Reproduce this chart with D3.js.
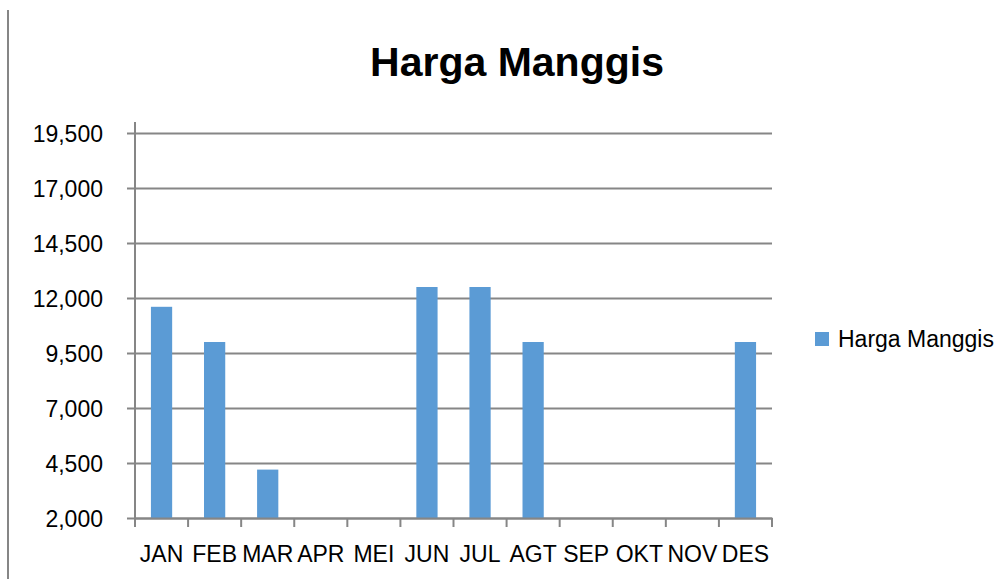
<!DOCTYPE html>
<html>
<head>
<meta charset="utf-8">
<script src="https://cdn.jsdelivr.net/npm/d3@7"></script>
<style>
    body { margin: 0; background: #fff; }
    text { font-family: "Liberation Sans", Arial, sans-serif; fill: #000; }
</style>
</head>
<body>
<div id="chart"></div>
<script>
// data
const months = ["JAN", "FEB", "MAR", "APR", "MEI", "JUN", "JUL", "AGT", "SEP", "OKT", "NOV", "DES"];
const harga = [11600, 10000, 4200, 0, 0, 12500, 12500, 10000, 0, 0, 0, 10000];
const yTicks = [2000, 4500, 7000, 9500, 12000, 14500, 17000, 19500];
const seriesName = "Harga Manggis";

const W = 1008, H = 579;
const margin = { top: 122, left: 135 };
const width = 637;
const height = 396;
const grey = "#868686";
const blue = "#5b9bd5";

const svg = d3.select("#chart")
    .append("svg")
    .attr("width", W)
    .attr("height", H);

// frame line on the left
svg.append("line")
    .attr("x1", 8).attr("x2", 8)
    .attr("y1", 10).attr("y2", H)
    .attr("stroke", grey)
    .attr("stroke-width", 2);

svg.append("text")
    .attr("x", 517)
    .attr("y", 76)
    .attr("text-anchor", "middle")
    .attr("font-size", 41)
    .attr("font-weight", "bold")
    .text(seriesName);

const g = svg.append("g")
    .attr("transform", "translate(" + margin.left + "," + margin.top + ")");

const xScale = d3.scaleBand()
    .domain(months)
    .range([0, width])
    .paddingInner(0.6)
    .paddingOuter(0.3);

const yScale = d3.scaleLinear()
    .domain([2000, 20000])
    .range([height, 0])
    .clamp(true);

// y axis + gridlines
const yAxis = g.append("g")
    .call(d3.axisLeft(yScale)
        .tickValues(yTicks)
        .tickSizeInner(-width)
        .tickSizeOuter(0)
        .tickFormat(d3.format(",")));

yAxis.select(".domain").remove();
yAxis.selectAll(".tick line")
    .attr("x1", -8)
    .attr("stroke", grey)
    .attr("stroke-width", 2);
yAxis.selectAll(".tick text")
    .attr("x", -32)
    .attr("dy", "0.36em")
    .attr("font-size", 23)
    .style("font-family", "Liberation Sans, Arial, sans-serif");

// bars
g.append("g")
    .selectAll("rect")
    .data(months.map((m, i) => ({ month: m, value: harga[i] })))
    .enter()
    .append("rect")
    .attr("x", d => xScale(d.month))
    .attr("width", xScale.bandwidth())
    .attr("y", d => yScale(d.value))
    .attr("height", d => height - yScale(d.value))
    .attr("fill", blue);

// axis lines
g.append("line")
    .attr("x1", 0).attr("x2", 0)
    .attr("y1", 0).attr("y2", height)
    .attr("stroke", grey)
    .attr("stroke-width", 2);

const xAxis = g.append("g")
    .attr("transform", "translate(0," + height + ")")
    .call(d3.axisBottom(xScale).tickSize(0).tickPadding(28));

xAxis.select(".domain")
    .attr("stroke", grey)
    .attr("stroke-width", 2);
xAxis.selectAll(".tick text")
    .attr("font-size", 23)
    .style("font-family", "Liberation Sans, Arial, sans-serif");

// category boundary ticks
g.append("g")
    .selectAll("line")
    .data(d3.range(months.length + 1))
    .enter()
    .append("line")
    .attr("x1", i => i * xScale.step())
    .attr("x2", i => i * xScale.step())
    .attr("y1", height)
    .attr("y2", height + 9)
    .attr("stroke", grey)
    .attr("stroke-width", 2);

// legend
const legend = svg.append("g")
    .attr("transform", "translate(815,332)");

legend.append("rect")
    .attr("width", 14)
    .attr("height", 14)
    .attr("fill", blue);

legend.append("text")
    .attr("x", 23)
    .attr("y", 15)
    .attr("font-size", 23)
    .text(seriesName);
</script>
</body>
</html>
